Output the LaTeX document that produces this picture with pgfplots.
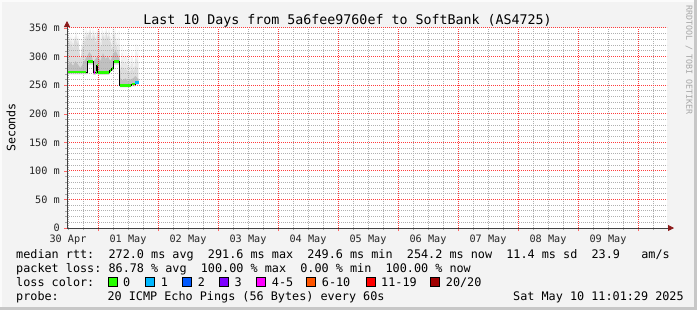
\documentclass[border=0pt]{standalone}
\usepackage{fontspec}
\usepackage{pgfplots}
\pgfplotsset{compat=1.18}
\usetikzlibrary{arrows.meta}
\setmonofont{DejaVu Sans Mono}
\newfontfamily\dvm{DejaVu Sans Mono}
\definecolor{canvas}{HTML}{F3F3F3}
\definecolor{smokeA}{HTML}{DCDCDC}
\definecolor{smokeB}{HTML}{C0C0C0}
\definecolor{mgrid}{HTML}{FF3C3C}
\definecolor{grd}{HTML}{B0B0B0}
\definecolor{arrowc}{HTML}{8B1A1A}
\definecolor{lc0}{HTML}{26FF00}
\definecolor{lc1}{HTML}{00B8FF}
\definecolor{lc2}{HTML}{0059FF}
\definecolor{lc3}{HTML}{7E00FF}
\definecolor{lc5}{HTML}{FF00FF}
\definecolor{lc10}{HTML}{FF5500}
\definecolor{lc19}{HTML}{FF0000}
\definecolor{lc20}{HTML}{A00000}
\newcommand\lgfont{\dvm\fontsize{11.8bp}{14bp}\selectfont}
\tikzset{mingrid/.style={draw=grd, dash pattern=on 1bp off 1bp, line width=0.9bp},
         majgrid/.style={draw=mgrid, dash pattern=on 1bp off 1bp, line width=1bp}}
\begin{document}
\frenchspacing
\begin{tikzpicture}[x=1bp,y=1bp]
\useasboundingbox (0,0) rectangle (697,310);
\fill[canvas] (0,0) rectangle (697,310);
\fill[white!70!canvas] (0,0) rectangle (2,310);
\fill[white!70!canvas] (0,308) rectangle (697,310);
\fill[black!22] (694,0) rectangle (697,310);
\fill[black!22] (0,0) rectangle (697,3);
\begin{axis}[
  at={(67bp,82bp)}, anchor=south west,
  scale only axis, width=600bp, height=200bp,
  xmin=-0.4, xmax=239.6, ymin=0, ymax=350,
  axis background/.style={fill=white},
  axis line style={draw=none},
  xtick={12,36,...,228}, xticklabels={},
  minor xtick={0,6,18,24,30,42,48,54,66,72,78,90,96,102,114,120,126,138,144,150,162,168,174,186,192,198,210,216,222,234},
  ytick={0,50,...,350},
  yticklabels={0,50 m,100 m,150 m,200 m,250 m,300 m,350 m},
  minor ytick={10,20,30,40,60,70,80,90,110,120,130,140,160,170,180,190,210,220,230,240,260,270,280,290,310,320,330,340},
  grid=none,
  extra x ticks={0,24,...,216},
  extra x tick labels={30 Apr,01 May,02 May,03 May,04 May,05 May,06 May,07 May,08 May,09 May},
  extra x tick style={major tick length=0pt},
  tick align=outside,
  xtick pos=bottom, ytick pos=left,
  major tick length=3bp, minor tick length=2bp,
  major tick style={draw=red!60},
  minor tick style={draw=gray!70},
  every tick label/.append style={font=\dvm\fontsize{10.2bp}{12bp}\selectfont, text=black!85},
  yticklabel style={inner sep=0pt, xshift=-4bp},
  xticklabel style={inner sep=0pt, anchor=north, yshift=-6.5bp},
  unbounded coords=jump,
  clip=true,
]
% light smoke
\addplot[fill=smokeA, draw=none] coordinates {
(-0.4,330)(0,345)(0.4,320)(0.8,340)(1.2,315)(1.6,338)(2.0,310)(2.4,335)(2.8,325)(3.2,345)
(3.6,320)(4.0,336)(4.4,318)(4.8,300)(5.2,296)(5.6,330)(6.0,310)(6.4,348)(6.8,320)(7.2,350)
(7.6,330)(8.0,345)(8.4,335)(8.8,350)(9.2,340)(9.6,325)(10.0,350)(10.4,330)(10.8,345)(11.2,320)
(11.6,350)(12.0,335)(12.4,350)(12.8,340)(13.2,310)(13.6,350)(14.0,330)(14.4,345)(14.8,325)(15.2,350)
(15.6,340)(16.0,330)(16.4,350)(16.8,320)(17.2,340)(17.6,305)(18.0,350)(18.4,330)(18.8,350)(19.2,310)
(19.6,340)(20.0,300)(20.4,345)(20.8,290)(21.2,270)(21.6,318)(22.0,268)(22.4,310)(22.8,266)(23.2,312)
(23.6,265)(24.0,305)(24.4,264)(24.8,300)(25.2,266)(25.6,308)(26.0,268)(26.4,295)(26.8,270)(27.2,322)
(27.6,268)(28.0,318)(28.2,262)
(28.2,251)(26.8,251)(26.8,248)(25.2,248)(25.2,246)(20.6,246)(20.6,286)(18.2,286)(18.2,275)
(17.2,275)(17.2,272)(16.4,272)(16.4,268)(11.8,268)(11.8,280)(11.2,280)(11.2,268)(10,268)(10,286)
(7.6,286)(7.6,269)(-0.4,269)
} -- cycle;
% darker smoke close to the median
\addplot[fill=smokeB, draw=none] coordinates {
(-0.4,282)(1.0,290)(2.0,284)(3.0,292)(4.0,286)(5.0,280)(6.0,288)(7.0,296)(7.6,300)(8.5,308)
(9.5,302)(10.0,290)(11.0,296)(12.0,300)(13.0,292)(14.0,306)(15.0,296)(16.0,300)(17.0,292)(18.0,304)
(19.0,310)(20.0,302)(20.6,296)(21.0,262)(22.0,258)(23.0,262)(24.0,257)(25.0,260)(26.0,262)(27.0,266)
(28.2,260)
(28.2,253)(26.8,253)(26.8,250)(25.2,250)(25.2,248)(20.6,248)(20.6,289)(18.2,289)(18.2,277)
(17.2,277)(17.2,274)(16.4,274)(16.4,270)(11.8,270)(11.8,283)(11.2,283)(11.2,270)(10,270)(10,289)
(7.6,289)(7.6,271)(-0.4,271)
} -- cycle;
% grid (drawn over the smoke, as in the reference)
\pgfplotsinvokeforeach{0,6,18,24,30,42,48,54,66,72,78,90,96,102,114,120,126,138,144,150,162,168,174,186,192,198,210,216,222,234}{
  \draw[mingrid] (axis cs:#1,0) -- (axis cs:#1,350);
}
\pgfplotsinvokeforeach{10,20,30,40,60,70,80,90,110,120,130,140,160,170,180,190,210,220,230,240,260,270,280,290,310,320,330,340}{
  \draw[mingrid] (axis cs:-0.4,#1) -- (axis cs:239.6,#1);
}
\pgfplotsinvokeforeach{12,36,60,84,108,132,156,180,204,228}{
  \draw[majgrid] (axis cs:#1,0) -- (axis cs:#1,350);
}
\pgfplotsinvokeforeach{50,100,150,200,250,300,350}{
  \draw[majgrid] (axis cs:-0.4,#1) -- (axis cs:239.6,#1);
}
% median (black connector)
\addplot[const plot, black, line width=0.9bp] coordinates {
(-0.4,273)(7.6,291)(10,272)(11.2,285)(11.8,272)(16.4,276)(17.2,279)(18.2,291)(20.6,249.6)(25.2,252)(26.8,255)(28.2,255)
};
% median coloured by loss: 0
\addplot[lc0, line width=2.6bp] coordinates {
(-0.4,273)(7.3,273)(7.5,nan)
(7.9,291)(9.8,291)(9.9,nan)
(11.2,272)(11.3,272)(11.35,nan)
(11.4,285)(11.7,285)(11.75,nan)
(12.0,272)(16.2,272)(16.3,nan)
(16.6,276)(17.0,276)(17.1,nan)
(17.4,279)(18.0,279)(18.1,nan)
(18.4,291)(20.4,291)(20.5,nan)
(20.8,249.6)(25.0,249.6)(25.1,nan)
(25.4,252)(26.6,252)
};
% loss 4-5
\addplot[lc5, line width=2.6bp] coordinates {(10.2,272)(10.9,272)};
% loss 1
\addplot[lc1, line width=2.6bp] coordinates {(26.8,255)(28.2,255)};
\end{axis}
% axes with arrows
\draw[black!75, line width=0.8bp, -{Triangle[length=6bp,width=6bp,color=arrowc]}] (67,82) -- (67,289);
\draw[black!75, line width=0.8bp, -{Triangle[length=6bp,width=6bp,color=arrowc]}] (67,82) -- (674,82);
% title and labels
\node[anchor=base, inner sep=0pt, font=\dvm\fontsize{13.3bp}{16bp}\selectfont] at (347.5,286) {Last 10 Days from 5a6fee9760ef to SoftBank (AS4725)};
\node[rotate=90, inner sep=0pt, font=\dvm\fontsize{11.6bp}{14bp}\selectfont] at (11,182.5) {Seconds};
\node[rotate=-90, inner sep=0pt, text=black!35, font=\dvm\fontsize{8.3bp}{10bp}\selectfont] at (689,250) {RRDTOOL / TOBI OETIKER};
% legend
\node[anchor=base west, inner sep=0pt, font=\lgfont] at (16,51.4) {median~rtt:~~272.0~ms~avg~~291.6~ms~max~~249.6~ms~min~~254.2~ms~now~~11.4~ms~sd~~23.9~~~am/s};
\node[anchor=base west, inner sep=0pt, font=\lgfont] at (16,37.4) {packet~loss:~86.78~\%~avg~~100.00~\%~max~~0.00~\%~min~~100.00~\%~now};
\node[anchor=base west, inner sep=0pt, font=\lgfont] at (16,23.4) {loss~color:};
\foreach \bx/\col/\lab in {108/lc0/0, 145.7/lc1/1, 182.7/lc2/2, 219.3/lc3/3, 256.7/lc5/4-5, 306.7/lc10/6-10, 366/lc19/11-19, 430.7/lc20/{20/20}}{
  \filldraw[fill=\col, draw=black, line width=0.8bp] (\bx,23.6) rectangle ++(9,9);
  \node[anchor=base west, inner sep=0pt, font=\lgfont] at (\bx+15,23.4) {\lab};
}
\node[anchor=base west, inner sep=0pt, font=\lgfont] at (16,9.7) {probe:};
\node[anchor=base west, inner sep=0pt, font=\lgfont] at (107.3,9.7) {20~ICMP~Echo~Pings~(56~Bytes)~every~60s};
\node[anchor=base west, inner sep=0pt, font=\lgfont] at (513,9.7) {Sat~May~10~11:01:29~2025};
\end{tikzpicture}
\end{document}
